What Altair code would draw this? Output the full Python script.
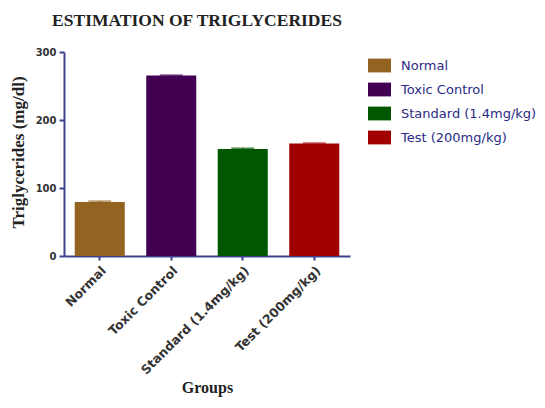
import altair as alt
import pandas as pd

title_text = ["ESTIMATION OF TRIGLYCERIDES"]
groups = ["Normal", "Toxic Control", "Standard (1.4mg/kg)", "Test (200mg/kg)"]
means = [79.5, 265.5, 157.5, 165.5]
sems = [1.2, 0.5, 1.0, 0.6]
colors = ["#936322", "#410052", "#005700", "#a10000"]
y_ticks = [0, 100, 200, 300]

df = pd.DataFrame({"group": groups, "mean": means, "sem": sems})
df["upper"] = df["mean"] + df["sem"]
title_df = pd.DataFrame({"t": title_text})

AXIS_COLOR = "#3d4190"

color_scale = alt.Scale(domain=groups, range=colors)

x_enc = alt.X(
    "group:N",
    sort=groups,
    scale=alt.Scale(paddingInner=0.3, paddingOuter=0.15),
    axis=alt.Axis(
        title="Groups",
        labelAngle=-45,
        labelFont="DejaVu Sans",
        labelFontWeight="bold",
        labelFontSize=12.5,
        labelColor="#333333",
        labelPadding=4,
        tickSize=4,
        titleFont="Liberation Serif",
        titleFontSize=16,
        titleFontWeight="bold",
        titleColor="#222222",
        titleX=143,
        titleY=136,
        titleAlign="center",
        titleBaseline="alphabetic",
    ),
)

y_axis = alt.Axis(
    title="Triglycerides (mg/dl)",
    values=y_ticks,
    grid=False,
    tickSize=5,
    labelPadding=3,
    labelFont="DejaVu Sans",
    labelFontWeight="bold",
    labelFontSize=10,
    labelColor="#333333",
    titleFont="Liberation Serif",
    titleFontSize=17,
    titleFontWeight="bold",
    titleColor="#222222",
    titleX=-41,
    titleY=100,
    titleAlign="center",
    titleBaseline="alphabetic",
)

base = alt.Chart(df)

bars = base.mark_bar().encode(
    x=x_enc,
    y=alt.Y("mean:Q", scale=alt.Scale(domain=[0, 300], nice=False), axis=y_axis),
    color=alt.Color(
        "group:N",
        sort=groups,
        scale=color_scale,
        legend=alt.Legend(
            title=None,
            orient="none",
            legendX=304,
            legendY=2,
            padding=0,
            symbolType="M-1,-0.6L1,-0.6L1,0.6L-1,0.6Z",
            symbolSize=529,
            symbolStrokeWidth=0,
            symbolOpacity=1,
            labelFont="DejaVu Sans",
            labelFontSize=13,
            labelColor="#2a2a84",
            labelOffset=10,
            rowPadding=5,
            labelLimit=200,
        ),
    ),
)

err_rule = base.mark_rule(strokeWidth=1.5).encode(
    x=alt.X("group:N", sort=groups),
    y="mean:Q",
    y2="upper:Q",
    color=alt.Color("group:N", sort=groups, scale=color_scale, legend=None),
)

err_cap = base.mark_tick(size=23, thickness=1.5).encode(
    x=alt.X("group:N", sort=groups),
    y="upper:Q",
    color=alt.Color("group:N", sort=groups, scale=color_scale, legend=None),
)

title_mark = alt.Chart(title_df).mark_text(
    font="Liberation Serif",
    fontSize=17.5,
    fontWeight="bold",
    color="#222222",
    align="center",
    baseline="alphabetic",
).encode(text="t:N", x=alt.value(133), y=alt.value(-26))

chart = (
    alt.layer(bars, err_rule, err_cap, title_mark)
    .properties(
        width=286,
        height=204,
        autosize=alt.AutoSizeParams(type="none"),
        padding={"left": 56, "top": 44, "right": 187, "bottom": 142},
    )
    .configure_view(stroke=None)
    .configure_axis(
        domainColor=AXIS_COLOR,
        tickColor=AXIS_COLOR,
        domainWidth=2,
        tickWidth=2,
    )
)

chart.save("out.html", embed_options={"renderer": "svg", "actions": False})
